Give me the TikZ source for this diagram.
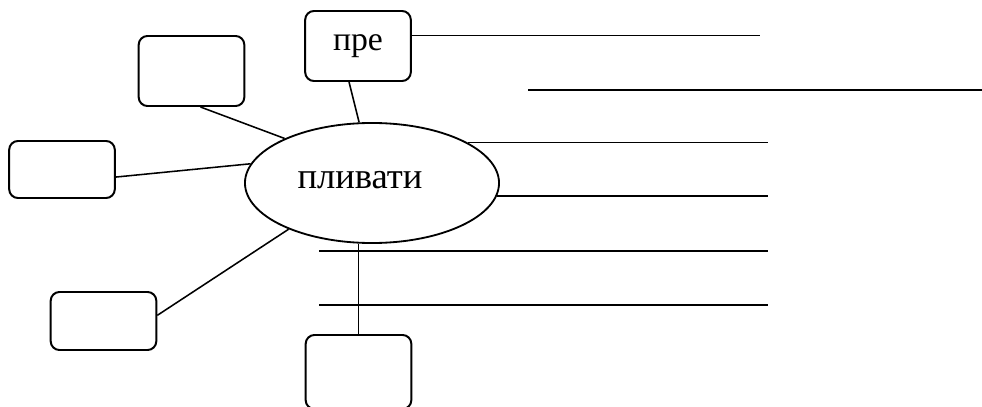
\documentclass[tikz,border=0pt]{standalone}
\usepackage{fontspec}
\setmainfont{Liberation Serif}
\usetikzlibrary{shapes}
\usetikzlibrary{positioning}

\begin{document}
\begin{tikzpicture}[x=0.025cm,y=-0.025cm,line width=1.1pt,
    wordbox/.style={draw,line width=1.4pt,rounded corners=0.22cm,
        minimum width=2.64cm,inner sep=0pt},
    rootword/.style={draw,ellipse,line width=1.3pt,minimum width=6.35cm,
        minimum height=3cm,inner sep=0pt}]
    \useasboundingbox (0,0) rectangle (982,407);
    % centre
    \node[rootword] (ell) at (372,183) {};
    \node (word) at (360,180) {\fontsize{26}{30}\selectfont пливати};
    % boxes round it
    \node[wordbox,minimum height=1.75cm] (pre) at (358,46)
        {\fontsize{24}{28}\selectfont пре};
    \node[wordbox,minimum height=1.75cm] (left1) at (191.5,71) {};
    \node[wordbox,minimum height=1.425cm] (left2) at (62,169.5) {};
    \node[wordbox,minimum height=1.45cm] (left3) at (103.5,321) {};
    \node[wordbox,minimum height=1.85cm] (bottom) at (358.5,372) {};
    \coordinate (rend) at (768,0);
    \coordinate (pend) at (760,0);

    \draw (left1.-76) -- (ell.153);
    \draw (left2.-8) -- (ell.171);
    \draw (left3.6) -- (ell.209);
    \draw (pre.-104) -- (ell.102);
    \draw (bottom.north) -- (bottom.north |- ell.south);

    % lines for writing
    \draw (pre.11) -- (pre.11 -| pend);
    \draw (528,90) -- (982,90);
    \draw (ell.23) -- (ell.23 -| rend);
    \draw (ell.-6.5) -- (ell.-6.5 -| rend);
    \draw (319,251) -- (768,251);
    \draw (319,305) -- (768,305);
\end{tikzpicture}
\end{document}
